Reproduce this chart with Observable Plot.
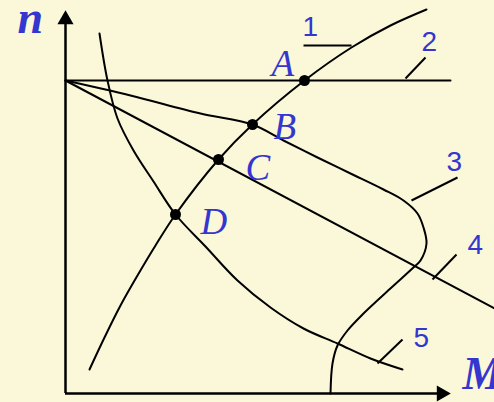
<!DOCTYPE html>
<html>
<head>
<meta charset="utf-8">
<script src="https://cdn.jsdelivr.net/npm/d3@7"></script>
<script src="https://cdn.jsdelivr.net/npm/@observablehq/plot@0.6"></script>
<style>
  html, body { margin: 0; padding: 0; background: #FAF8D8; }
  #chart svg { display: block; background: #FAF8D8; }
</style>
</head>
<body>
<div id="chart"></div>
<script>
// Coordinates: M (torque, horizontal) and n (speed, vertical)
// Curve 1: rising characteristic through D, C, B, A
const curve1M = [24, 39, 55, 72, 90, 110, 153, 187, 239, 286, 325, 361];
const curve1N = [24, 56, 88, 118, 148, 179, 234, 269, 313, 346, 368, 384];
// Curve 2: horizontal line
const curve2M = [0, 385];
const curve2N = [313, 313];
// Curve 3: bent characteristic through B
const curve3M = [0, 65, 135, 187, 218, 252, 285, 318, 338, 352, 358, 361, 355, 349, 326, 298, 282, 272, 267, 265];
const curve3N = [313, 298, 280, 269, 253, 236, 220, 204, 193, 180, 166, 150, 133, 127, 106, 80, 63, 48, 30, 0];
// Curve 4: straight line through C
const curve4M = [0, 429];
const curve4N = [313, 85];
// Curve 5: hyperbola-like curve through D
const curve5M = [34, 42, 52, 68, 88, 110, 140, 172, 205, 238, 272, 305, 337];
const curve5N = [360, 313, 275, 243, 212, 179, 147, 113, 86, 65, 50, 35, 24];

// Intersection points
const pointNames = ["A", "B", "C", "D"];
const pointM = [239, 187, 153, 110];
const pointN = [313, 269, 234, 179];
const pointLabelM = [206, 208, 180, 135];
const pointLabelN = [318, 255, 214, 160];

// Curve numbers and their leader lines
const curveNames = ["1", "2", "3", "4", "5"];
const curveLabelM = [237, 356, 381, 402, 348];
const curveLabelN = [358, 343, 223, 140, 47];
const leaderM1 = [238, 340, 346, 367, 312];
const leaderN1 = [348, 315, 193, 114, 30];
const leaderM2 = [286, 360, 392, 391, 337];
const leaderN2 = [348, 336, 216, 139, 54];

// Axes
const axisNames = ["n", "M"];
const axisLabelM = [-48, 397];
const axisLabelN = [361, 5];
const yAxisTop = 374;
const xAxisEnd = 376;

const toPts = (ms, ns) => ms.map((m, i) => ({M: m, n: ns[i]}));
const curves = [
  toPts(curve1M, curve1N),
  toPts(curve2M, curve2N),
  toPts(curve3M, curve3N),
  toPts(curve4M, curve4N),
  toPts(curve5M, curve5N)
];
const points = pointNames.map((name, i) => ({name, M: pointM[i], n: pointN[i], lm: pointLabelM[i], ln: pointLabelN[i]}));
const numbers = curveNames.map((name, i) => ({name, M: curveLabelM[i], n: curveLabelN[i],
  m1: leaderM1[i], n1: leaderN1[i], m2: leaderM2[i], n2: leaderN2[i]}));
const axes = axisNames.map((name, i) => ({name, M: axisLabelM[i], n: axisLabelN[i]}));

const blue = "#3535CF";

const chart = Plot.plot({
  width: 494,
  height: 402,
  margin: 0,
  x: {domain: [-65, 429], axis: null},
  y: {domain: [-9, 393], axis: null},
  style: {background: "#FAF8D8"},
  marks: [
    // axes
    Plot.ruleX([0], {y1: 0, y2: yAxisTop, stroke: "black", strokeWidth: 2.5}),
    Plot.ruleY([0], {x1: 0, x2: xAxisEnd, stroke: "black", strokeWidth: 2.5}),
    Plot.dot([{M: 0, n: yAxisTop}], {x: "M", y: "n", symbol: "triangle", r: 6, fill: "black", stroke: null}),
    Plot.dot([{M: xAxisEnd, n: 0}], {x: "M", y: "n", symbol: "triangle", r: 6, fill: "black", stroke: null, rotate: 90}),
    // curves
    ...curves.map(c => Plot.line(c, {x: "M", y: "n", stroke: "black", strokeWidth: 2, curve: "catmull-rom"})),
    // leader lines
    Plot.link(numbers, {x1: "m1", y1: "n1", x2: "m2", y2: "n2", stroke: "black", strokeWidth: 2}),
    // intersection dots
    Plot.dot(points, {x: "M", y: "n", r: 5.5, fill: "black", stroke: null}),
    // labels
    Plot.text(points, {x: "lm", y: "ln", text: "name", textAnchor: "start", lineAnchor: "bottom",
      fontSize: 37, fontStyle: "italic", fontFamily: "Liberation Serif", fill: blue}),
    Plot.text(numbers, {x: "M", y: "n", text: "name", textAnchor: "start", lineAnchor: "bottom",
      fontSize: 28, fontFamily: "Liberation Sans", fill: blue}),
    Plot.text(axes, {x: "M", y: "n", text: "name", textAnchor: "start", lineAnchor: "bottom",
      fontSize: 46, fontStyle: "italic", fontWeight: "bold", fontFamily: "Liberation Serif", fill: blue})
  ]
});
document.getElementById("chart").appendChild(chart);
</script>
</body>
</html>
